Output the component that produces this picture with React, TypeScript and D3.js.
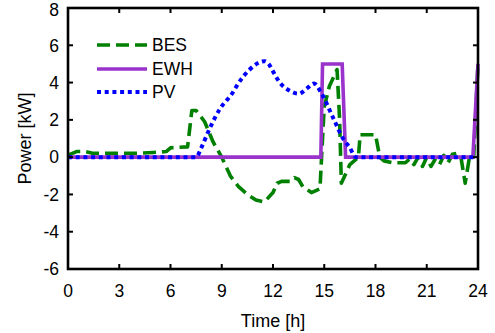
import React from "react";
import * as d3 from "d3";

const W = 495;
const H = 333;
const margin = { left: 68, right: 17, top: 8, bottom: 64 };

const xTicks = [0, 3, 6, 9, 12, 15, 18, 21, 24];
const yTicks = [-6, -4, -2, 0, 2, 4, 6, 8];

const besHours = [0, 0.5, 1, 1.5, 2, 3, 4, 5, 5.75, 6, 7, 7.25, 7.5, 8, 8.5, 9, 9.5, 10, 10.5, 11, 11.5, 12, 12.25, 12.5, 13, 13.25, 13.5, 13.75, 14.25, 14.75, 14.9, 15, 15.3, 15.75, 15.9, 16, 16.25, 16.5, 16.75, 17, 17.1, 18, 18.25, 18.5, 19, 19.75, 20, 20.25, 20.5, 20.75, 21, 21.25, 21.5, 21.75, 22, 22.25, 22.5, 22.75, 23, 23.25, 23.5, 23.75, 24];
const besValues = [0.1, 0.3, 0.3, 0.2, 0.2, 0.2, 0.2, 0.25, 0.3, 0.5, 0.55, 2.5, 2.5, 1.9, 0.8, 0.0, -1.0, -1.6, -2.0, -2.3, -2.4, -1.9, -1.4, -1.3, -1.3, -1.1, -1.2, -1.6, -1.9, -1.7, 1.0, 2.7, 3.8, 4.7, 2.0, -1.4, -0.9, -0.4, -0.2, 0.0, 1.2, 1.2, 0.0, -0.2, -0.3, -0.3, -0.1, -0.4, 0.0, -0.5, 0.0, -0.5, -0.1, -0.4, 0.1, -0.3, 0.15, 0.2, 0.0, -1.4, 0.0, 0.0, 5.0];

const ewhHours = [0, 14.8, 14.9, 16.05, 16.25, 23.7, 24];
const ewhValues = [0, 0, 5, 5, 0, 0, 5];

const pvHours = [0, 7.5, 7.8, 8.3, 8.9, 9.6, 10, 10.6, 11.5, 11.75, 12, 12.4, 13, 13.5, 14, 14.4, 14.85, 15.5, 16.1, 16.5, 16.85, 24];
const pvValues = [0, 0, 0.5, 1.55, 2.6, 3.4, 4.0, 4.67, 5.15, 5.0, 4.6, 4.0, 3.55, 3.4, 3.7, 3.95, 3.4, 2.15, 1.0, 0.5, 0, 0];

const seriesNames = ["BES", "EWH", "PV"];
const seriesColors = ["#008000", "#9933cc", "#0000ff"];

const FONT = "'Liberation Sans', Arial, Helvetica, sans-serif";

export default function App() {
  const x = d3.scaleLinear().domain([0, 24]).range([margin.left, W - margin.right]);
  const y = d3.scaleLinear().domain([-6, 8]).range([H - margin.bottom, margin.top]);

  const mk = (hs: number[], vs: number[], curve: d3.CurveFactory) =>
    d3
      .line<number>()
      .x((_, i) => x(hs[i]))
      .y((v) => y(v))
      .curve(curve)(vs) as string;

  const besPath = mk(besHours, besValues, d3.curveLinear);
  const ewhPath = mk(ewhHours, ewhValues, d3.curveLinear);
  const pvPath = mk(pvHours, pvValues, d3.curveMonotoneX);

  const x0 = x(0), x1 = x(24), yT = y(8), yB = y(-6);
  const tl = 5;

  const legendX0 = 97, legendX1 = 147;
  const legendYs = [45, 69, 92];

  const styles = [
    { stroke: seriesColors[0], width: 3.6, dash: "13,6" },
    { stroke: seriesColors[1], width: 3.6, dash: "" },
    { stroke: seriesColors[2], width: 4, dash: "4,3.7" },
  ];

  return (
    <div style={{ position: "absolute", left: 0, top: 0 }}>
      <svg width={W} height={H} style={{ display: "block", background: "#fff" }}>
        <defs>
          <clipPath id="plotclip">
            <rect x={x0} y={yT} width={x1 - x0 + 2} height={yB - yT} />
          </clipPath>
        </defs>
        <g clipPath="url(#plotclip)">
          <path d={besPath} fill="none" stroke={styles[0].stroke} strokeWidth={styles[0].width} strokeDasharray={styles[0].dash} strokeLinejoin="round" />
          <path d={ewhPath} fill="none" stroke={styles[1].stroke} strokeWidth={styles[1].width} strokeLinejoin="miter" />
          <path d={pvPath} fill="none" stroke={styles[2].stroke} strokeWidth={styles[2].width} strokeDasharray={styles[2].dash} />
        </g>
        {xTicks.map((t) => (
          <g key={"xt" + t}>
            <line x1={x(t)} x2={x(t)} y1={yB} y2={yB - tl} stroke="#000" strokeWidth={2} />
            <line x1={x(t)} x2={x(t)} y1={yT} y2={yT + tl} stroke="#000" strokeWidth={2} />
            <text x={x(t)} y={297} textAnchor="middle" fontFamily={FONT} fontSize={17.5} fill="#000">
              {t}
            </text>
          </g>
        ))}
        {yTicks.map((t) => (
          <g key={"yt" + t}>
            <line x1={x0} x2={x0 + tl} y1={y(t)} y2={y(t)} stroke="#000" strokeWidth={2} />
            <line x1={x1} x2={x1 - tl} y1={y(t)} y2={y(t)} stroke="#000" strokeWidth={2} />
            <text x={59} y={Math.max(y(t), 9.5)} dy="0.36em" textAnchor="end" fontFamily={FONT} fontSize={17.5} fill="#000">
              {t}
            </text>
          </g>
        ))}
        <rect x={x0} y={yT} width={x1 - x0} height={yB - yT} fill="none" stroke="#000" strokeWidth={2.6} />
        {seriesNames.map((n, i) => (
          <g key={n}>
            <line x1={legendX0} x2={legendX1} y1={legendYs[i]} y2={legendYs[i]} stroke={styles[i].stroke} strokeWidth={styles[i].width} strokeDasharray={styles[i].dash} />
            <text x={152} y={legendYs[i]} dy="0.36em" fontFamily={FONT} fontSize={17.5} fill="#000">
              {n}
            </text>
          </g>
        ))}
        <text x={(x0 + x1) / 2} y={327} textAnchor="middle" fontFamily={FONT} fontSize={18} fill="#000">
          Time [h]
        </text>
        <text transform={`translate(31,${(yT + yB) / 2}) rotate(-90)`} textAnchor="middle" fontFamily={FONT} fontSize={18} fill="#000">
          Power [kW]
        </text>
      </svg>
    </div>
  );
}
